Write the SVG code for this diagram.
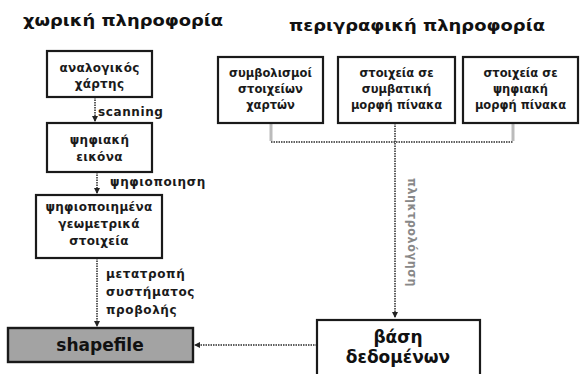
<svg xmlns="http://www.w3.org/2000/svg" width="580" height="374" viewBox="0 0 580 374">
<defs>
<style>
.box{fill:#fff;stroke:#1a1a1a;stroke-width:2.2}
.shp{fill:#a3a3a3;stroke:#1a1a1a;stroke-width:2.4}
.t{font-family:"DejaVu Sans","Liberation Sans",sans-serif;font-size:12px;letter-spacing:0.3px;fill:#1a1a1a;text-anchor:middle;font-weight:bold}
.r{font-size:11.5px;letter-spacing:0}
.l{font-family:"DejaVu Sans","Liberation Sans",sans-serif;font-size:12px;letter-spacing:0.6px;fill:#1a1a1a;font-weight:bold}
.h{font-family:"DejaVu Sans","Liberation Sans",sans-serif;font-size:16px;fill:#111;font-weight:bold}
.big{font-family:"DejaVu Sans","Liberation Sans",sans-serif;font-size:17px;fill:#111;text-anchor:middle;font-weight:bold}
.c{fill:none;stroke:#2a2a2a;stroke-width:1.5;stroke-dasharray:1.5 1}
.g{fill:none;stroke:#bbb;stroke-width:3}
</style>
<marker id="ah" markerWidth="6" markerHeight="6" refX="5" refY="3" orient="auto" markerUnits="userSpaceOnUse">
<path d="M0,0 L6,3 L0,6 Z" fill="#222"/>
</marker>
</defs>
<rect width="580" height="374" fill="#fff"/>
<text class="h" x="23" y="26" textLength="200" lengthAdjust="spacingAndGlyphs">χωρική πληροφορία</text>
<text class="h" x="289" y="31" textLength="256" lengthAdjust="spacingAndGlyphs">περιγραφική πληροφορία</text>

<g id="connectors">
<path class="c" d="M95,97 V121" marker-end="url(#ah)"/>
<path class="c" d="M97,172 V193" marker-end="url(#ah)"/>
<path class="c" d="M97,258 V326" marker-end="url(#ah)"/>
<path class="g" d="M271,123 V141"/>
<path class="g" d="M513,123 V141"/>
<path class="c" d="M271,142 H513"/>
<path class="c" d="M395,123 V317" marker-end="url(#ah)"/>
<path class="c" d="M317,345 H195" marker-end="url(#ah)"/>
<text class="l" x="98" y="116">scanning</text>
<text class="l" x="110" y="186">ψηφιοποιηση</text>
<text class="l" x="106" y="278">μετατροπή</text>
<text class="l" x="106" y="296">συστήματος</text>
<text class="l" x="106" y="314">προβολής</text>
<text class="l" x="0" y="0" style="fill:#888" transform="translate(408,178) rotate(90)" textLength="109" lengthAdjust="spacingAndGlyphs">πληκτρολόγηση</text>
</g>

<g id="n1"><rect class="box" x="47" y="51" width="105" height="46"/>
<text class="t" x="99.5" y="72">αναλογικός</text><text class="t" x="99.5" y="88">χάρτης</text></g>
<g id="n2"><rect class="box" x="47" y="123" width="105" height="49"/>
<text class="t" x="99.5" y="144">ψηφιακή</text><text class="t" x="99.5" y="161">εικόνα</text></g>
<g id="n3"><rect class="box" x="36" y="195" width="126" height="63"/>
<text class="t" x="99" y="211">ψηφιοποιημένα</text><text class="t" x="99" y="228">γεωμετρικά</text><text class="t" x="99" y="245">στοιχεία</text></g>
<g id="n4"><rect class="shp" x="8" y="328" width="185" height="34"/>
<text class="big" x="100" y="351">shapefile</text></g>
<g id="n5"><rect class="box" x="218" y="57" width="105" height="66"/>
<text class="t r" x="270.5" y="77">συμβολισμοί</text><text class="t r" x="270.5" y="93">στοιχείων</text><text class="t r" x="270.5" y="109">χαρτών</text></g>
<g id="n6"><rect class="box" x="338" y="57" width="117" height="66"/>
<text class="t r" x="396.5" y="77">στοιχεία σε</text><text class="t r" x="396.5" y="93">συμβατική</text><text class="t r" x="396.5" y="109">μορφή πίνακα</text></g>
<g id="n7"><rect class="box" x="463" y="57" width="115" height="66"/>
<text class="t r" x="520.5" y="77">στοιχεία σε</text><text class="t r" x="520.5" y="93">ψηφιακή</text><text class="t r" x="520.5" y="109">μορφή πίνακα</text></g>
<g id="n8"><rect class="box" x="317" y="320" width="163" height="64"/>
<text class="big" x="398" y="343">βάση</text><text class="big" x="398" y="363">δεδομένων</text></g>
</svg>
